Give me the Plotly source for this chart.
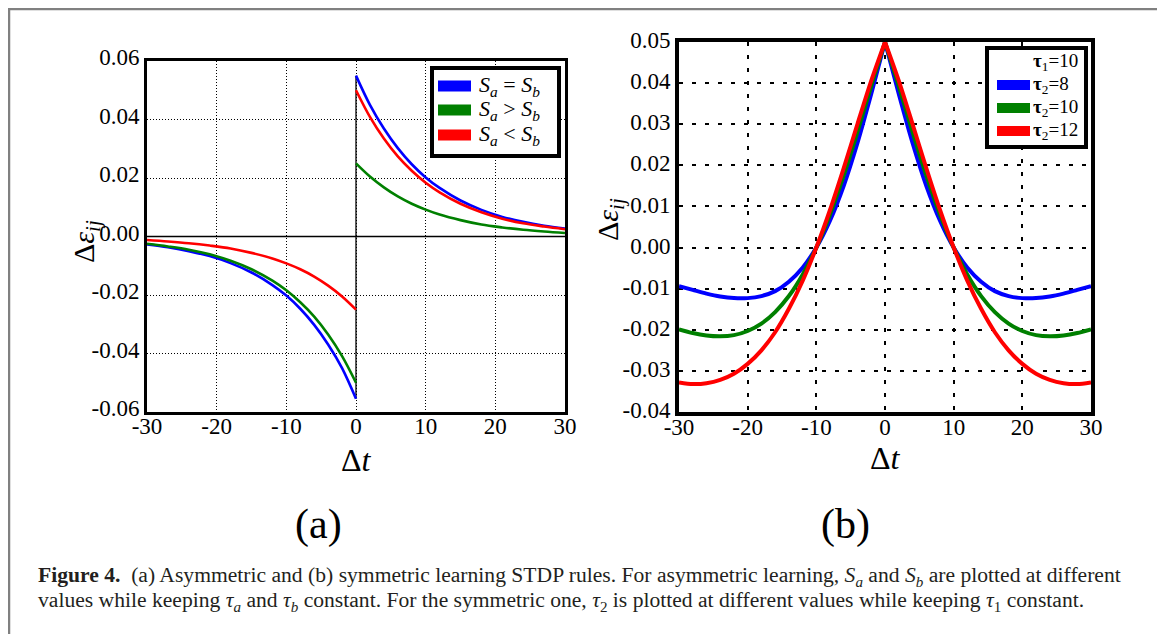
import plotly.graph_objects as go

# The browser page adds an 8 px body margin, so the figure is sized to the
# remaining area and every reference pixel position is shifted by that margin.
PAGE_W, PAGE_H = 1165, 634
OFF = 8
W, H = PAGE_W - OFF, PAGE_H - OFF

# ---------------- Panel (a): asymmetric STDP ----------------
t_neg_a = [-30, -27, -24, -21, -18, -15, -12, -10, -8, -6, -4, -2, 0]
t_pos_a = [0, 2, 4, 6, 8, 10, 12, 15, 18, 21, 24, 27, 30]

blue_neg_a = [-0.0027, -0.0037, -0.0050, -0.0067, -0.0091, -0.0123, -0.0166, -0.0202, -0.0247, -0.0302, -0.0369, -0.0450, -0.0555]
green_neg_a = [-0.0025, -0.0034, -0.0045, -0.0061, -0.0083, -0.0112, -0.0151, -0.0184, -0.0225, -0.0274, -0.0335, -0.0409, -0.0500]
red_neg_a = [-0.0012, -0.0017, -0.0023, -0.0031, -0.0041, -0.0056, -0.0075, -0.0092, -0.0112, -0.0137, -0.0168, -0.0205, -0.0250]

blue_pos_a = [0.0550, 0.0450, 0.0369, 0.0302, 0.0247, 0.0202, 0.0166, 0.0123, 0.0091, 0.0067, 0.0050, 0.0037, 0.0027]
green_pos_a = [0.0250, 0.0205, 0.0168, 0.0137, 0.0112, 0.0092, 0.0075, 0.0056, 0.0041, 0.0031, 0.0023, 0.0017, 0.0012]
red_pos_a = [0.0500, 0.0409, 0.0335, 0.0274, 0.0225, 0.0184, 0.0151, 0.0112, 0.0083, 0.0061, 0.0045, 0.0034, 0.0025]

names_a = ["<i>S</i><sub><i>a</i></sub> = <i>S</i><sub><i>b</i></sub>",
           "<i>S</i><sub><i>a</i></sub> &gt; <i>S</i><sub><i>b</i></sub>",
           "<i>S</i><sub><i>a</i></sub> &lt; <i>S</i><sub><i>b</i></sub>"]

# ---------------- Panel (b): symmetric STDP ----------------
t_neg_b = [-30, -28, -26, -24, -22, -20, -18, -16, -14, -12, -10, -8, -6, -4, -2, 0]
t_pos_b = [0, 2, 4, 6, 8, 10, 12, 14, 16, 18, 20, 22, 24, 26, 28, 30]

blue_neg_b = [-0.0094, -0.0103, -0.0112, -0.0119, -0.0123, -0.0123, -0.0118, -0.0106, -0.0083, -0.0049, 0.0000, 0.0066, 0.0151, 0.0255, 0.0374, 0.0500]
green_neg_b = [-0.0199, -0.0208, -0.0214, -0.0216, -0.0213, -0.0203, -0.0185, -0.0157, -0.0118, -0.0066, 0.0000, 0.0081, 0.0176, 0.0282, 0.0393, 0.0500]
red_neg_b = [-0.0328, -0.0332, -0.0330, -0.0322, -0.0307, -0.0283, -0.0250, -0.0206, -0.0149, -0.0081, 0.0000, 0.0092, 0.0194, 0.0301, 0.0406, 0.0500]

blue_pos_b = [0.0500, 0.0374, 0.0255, 0.0151, 0.0066, 0.0000, -0.0049, -0.0083, -0.0106, -0.0118, -0.0123, -0.0123, -0.0119, -0.0112, -0.0103, -0.0094]
green_pos_b = [0.0500, 0.0393, 0.0282, 0.0176, 0.0081, 0.0000, -0.0066, -0.0118, -0.0157, -0.0185, -0.0203, -0.0213, -0.0216, -0.0214, -0.0208, -0.0199]
red_pos_b = [0.0500, 0.0406, 0.0301, 0.0194, 0.0092, 0.0000, -0.0081, -0.0149, -0.0206, -0.0250, -0.0283, -0.0307, -0.0322, -0.0330, -0.0332, -0.0328]

names_b = ["<b>τ</b><sub>2</sub>=8", "<b>τ</b><sub>2</sub>=10", "<b>τ</b><sub>2</sub>=12"]
tau1_label = "<b>τ</b><sub>1</sub>=10"

x_ticks = [-30, -20, -10, 0, 10, 20, 30]
y_ticks_a = [-0.06, -0.04, -0.02, 0.00, 0.02, 0.04, 0.06]
y_ticks_b = [-0.04, -0.03, -0.02, -0.01, 0.00, 0.01, 0.02, 0.03, 0.04, 0.05]

colors = ["#0000ff", "#008000", "#ff0000"]
SERIF = "Liberation Serif"


def px_x(p):
    return (p - OFF) / W


def px_y(p):
    return 1 - (p - OFF) / H


fig = go.Figure()

# ---- panel (a) traces ----
fig.add_trace(go.Scatter(x=[x_ticks[0], x_ticks[-1]], y=[0, 0], mode="lines",
                         line=dict(color="black", width=1.3), showlegend=False,
                         hoverinfo="skip", xaxis="x", yaxis="y"))
fig.add_trace(go.Scatter(x=[0, 0], y=[blue_neg_a[-1], blue_pos_a[0]], mode="lines",
                         line=dict(color="black", width=1.3), showlegend=False,
                         hoverinfo="skip", xaxis="x", yaxis="y"))

for neg, pos, c, n in zip([blue_neg_a, green_neg_a, red_neg_a], [blue_pos_a, green_pos_a, red_pos_a], colors, names_a):
    fig.add_trace(go.Scatter(x=t_neg_a, y=neg, mode="lines", name=n, line=dict(color=c, width=2.6, shape="spline"),
                             showlegend=False, xaxis="x", yaxis="y"))
    fig.add_trace(go.Scatter(x=t_pos_a, y=pos, mode="lines", name=n, line=dict(color=c, width=2.6, shape="spline"),
                             showlegend=False, xaxis="x", yaxis="y"))

# ---- panel (b) traces ----
for neg, pos, c, n in zip([blue_neg_b, green_neg_b, red_neg_b], [blue_pos_b, green_pos_b, red_pos_b], colors, names_b):
    fig.add_trace(go.Scatter(x=t_neg_b, y=neg, mode="lines", name=n, line=dict(color=c, width=4, shape="spline", smoothing=0.8),
                             showlegend=False, xaxis="x2", yaxis="y2"))
    fig.add_trace(go.Scatter(x=t_pos_b, y=pos, mode="lines", name=n, line=dict(color=c, width=4, shape="spline", smoothing=0.8),
                             showlegend=False, xaxis="x2", yaxis="y2"))

tickfont = dict(family=SERIF, size=23, color="black")


def fmt(v):
    return "%.2f" % v if v >= 0 else "-%.2f" % abs(v)


fig.update_layout(
    width=W, height=H,
    margin=dict(l=0, r=0, t=0, b=0, autoexpand=False),
    paper_bgcolor="white", plot_bgcolor="white",
    showlegend=False,
    xaxis=dict(domain=[px_x(147), px_x(565)], range=[-30, 30], tickvals=x_ticks,
               ticktext=[str(v) for v in x_ticks], showline=True, mirror=True, linecolor="black",
               linewidth=3, showgrid=True, gridcolor="black", gridwidth=1, griddash="1px,2px",
               zeroline=False, ticks="", tickfont=tickfont, anchor="y", automargin=False,
               ticklabelstandoff=-9),
    yaxis=dict(domain=[px_y(412), px_y(61)], range=[-0.06, 0.06], tickvals=y_ticks_a,
               ticktext=[fmt(v) for v in y_ticks_a],
               showline=True, mirror=True, linecolor="black", linewidth=3, showgrid=True,
               gridcolor="black", gridwidth=1, griddash="1px,2px", zeroline=False, ticks="",
               tickfont=tickfont, anchor="x", automargin=False, ticklabelshift=-4),
    xaxis2=dict(domain=[px_x(679), px_x(1091)], range=[-30, 30], tickvals=x_ticks,
                ticktext=[str(v) for v in x_ticks], showline=True, mirror=True, linecolor="black",
                linewidth=4, showgrid=True, gridcolor="black", gridwidth=2, griddash="4px,9px",
                zeroline=False, ticks="", tickfont=tickfont, anchor="y2", automargin=False,
                ticklabelstandoff=-9),
    yaxis2=dict(domain=[px_y(412), px_y(42)], range=[-0.04, 0.05], tickvals=y_ticks_b,
                ticktext=[fmt(v) for v in y_ticks_b],
                showline=True, mirror=True, linecolor="black", linewidth=4, showgrid=True,
                gridcolor="black", gridwidth=2, griddash="4px,9px", zeroline=False, ticks="",
                tickfont=tickfont, anchor="x2", automargin=False, ticklabelshift=-2),
)

ann = []


def add_text(text, x, y, size, xanchor="center", angle=0, color="black"):
    ann.append(dict(text=text, x=px_x(x), y=px_y(y), xref="paper", yref="paper",
                    xanchor=xanchor, yanchor="middle", textangle=angle, showarrow=False,
                    font=dict(family=SERIF, size=size, color=color)))


add_text("Δ<i>t</i>", 356, 460, 32)
add_text("Δ<i>t</i>", 885, 458, 32)
add_text("Δ<i>ε</i><sub><i>ij</i></sub>", 86, 242, 30, angle=-90)
add_text("Δ<i>ε</i><sub><i>ij</i></sub>", 610, 220, 30, angle=-90)
add_text("(a)", 318, 524, 42)
add_text("(b)", 845, 524, 42)

cap1 = ("<b>Figure 4.</b>&nbsp;&nbsp;(a) Asymmetric and (b) symmetric learning STDP rules. For asymmetric learning, "
        "<i>S</i><sub><i>a</i></sub> and <i>S</i><sub><i>b</i></sub> are plotted at different")
cap2 = ("values while keeping <i>τ</i><sub><i>a</i></sub> and <i>τ</i><sub><i>b</i></sub> constant. For the symmetric one, "
        "<i>τ</i><sub>2</sub> is plotted at different values while keeping <i>τ</i><sub>1</sub> constant.")
add_text(cap1, 36, 576, 21.6, xanchor="left", color="#231f20")
add_text(cap2, 36, 601, 21.6, xanchor="left", color="#231f20")

shapes = []
# outer frame (grey page border)
shapes.append(dict(type="rect", xref="paper", yref="paper", x0=px_x(9), x1=px_x(1160), y0=-0.1, y1=px_y(9),
                   line=dict(color="#808080", width=2.5), fillcolor="rgba(0,0,0,0)", layer="below"))

# ---- legend (a) ----
shapes.append(dict(type="rect", xref="paper", yref="paper", x0=px_x(432), x1=px_x(559), y0=px_y(156), y1=px_y(68),
                   line=dict(color="black", width=4), fillcolor="white", layer="above"))
rows_a = [86, 110, 135]
for yy, c, n in zip(rows_a, colors, names_a):
    shapes.append(dict(type="line", xref="paper", yref="paper", x0=px_x(438), x1=px_x(471), y0=px_y(yy), y1=px_y(yy),
                       line=dict(color=c, width=11), layer="above"))
    add_text(n, 477, yy, 22, xanchor="left")

# ---- legend (b) ----
shapes.append(dict(type="rect", xref="paper", yref="paper", x0=px_x(987), x1=px_x(1086), y0=px_y(147), y1=px_y(48),
                   line=dict(color="black", width=4), fillcolor="white", layer="above"))
add_text(tau1_label, 1031, 62, 19, xanchor="left")
rows_b = [85, 108, 131]
for yy, c, n in zip(rows_b, colors, names_b):
    shapes.append(dict(type="line", xref="paper", yref="paper", x0=px_x(997), x1=px_x(1030), y0=px_y(yy), y1=px_y(yy),
                       line=dict(color=c, width=10), layer="above"))
    add_text(n, 1031, yy, 19, xanchor="left")

fig.update_layout(annotations=ann, shapes=shapes)

fig.write_html("out.html")
